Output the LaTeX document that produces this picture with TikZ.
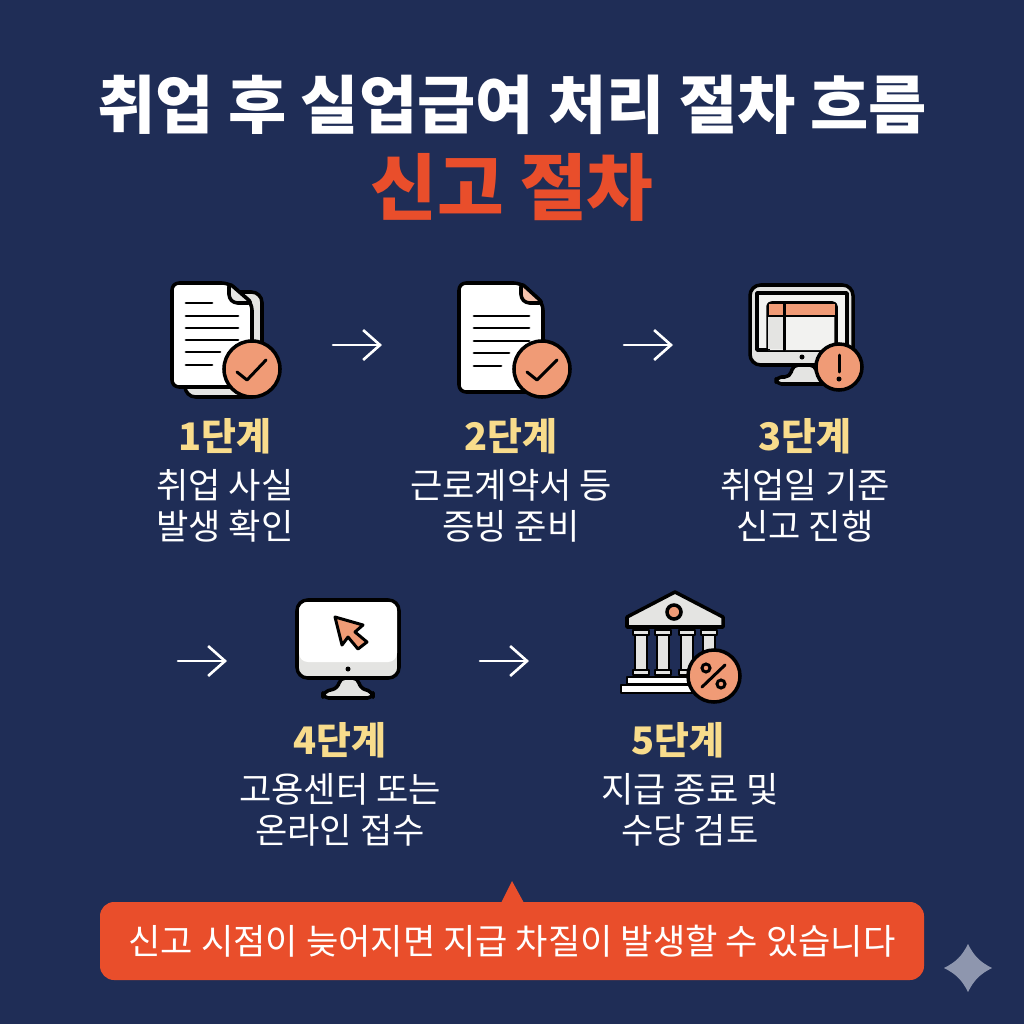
\documentclass[tikz,border=0pt]{standalone}
\usepackage{fontspec}
\newfontfamily\cjk{Noto Sans CJK KR}
\newfontfamily\cjkblack{Noto Sans CJK KR Black}
\usetikzlibrary{arrows.meta}
\definecolor{navy}{HTML}{1F2D56}
\definecolor{redorange}{HTML}{E94E2B}
\definecolor{peach}{HTML}{F09B76}
\definecolor{gold}{HTML}{F8DC8C}
\definecolor{sheet}{HTML}{E4E4E2}
\definecolor{sparkle}{HTML}{8E96AE}

\begin{document}
\begin{tikzpicture}
[x=0.01cm,y=-0.01cm,%%%%%%%%%%%%%%%%%%%%%%%%%%%%%%
title/.style={font=\cjkblack\fontsize{18}{20}\selectfont,text=white},
steplabel/.style={font=\cjkblack\fontsize{10.8}{12}\selectfont,text=gold},
stepdesc/.style={font=\cjk\fontsize{10}{11.7}\selectfont,text=white,align=center},
flow/.style={draw=white,line width=0.75pt,line cap=round,-{Straight Barb[length=4.8pt,width=8.5pt,line width=0.75pt]}},
icon/.style={draw=black,line width=1pt,line join=round,fill=white},
grey/.style={icon,fill=sheet},
rule/.style={draw=black,line width=0.85pt,line cap=round},
badge/.style={circle,draw=black,line width=1pt,fill=peach,inner sep=0pt},
]%%%%%%%%%%%%%%%%%%%%%%%%%%%%%%

\fill[navy] (0,0) rectangle (1024,1024);
\useasboundingbox (0,0) rectangle (1024,1024);

% titles
\node[title] (title) at (512,105){취업 후 실업급여 처리 절차 흐름};
\node[title,text=redorange,font=\cjkblack\fontsize{20.6}{22}\selectfont] (subtitle) at (512,187){신고 절차};

% step texts
\foreach \n/\lx/\x/\y/\d in {1/225/225/436/취업 사실\\발생 확인,
2/511/511/436/근로계약서 등\\증빙 준비,
3/805/805/436/취업일 기준\\신고 진행,
4/340/340/740/고용센터 또는\\온라인 접수,
5/678/690/740/지급 종료 및\\수당 검토}{
\node[steplabel] (step\n) at (\lx,\y){{\n}단계};
\node[stepdesc] (desc\n) at (\x,\y+70){\d};
}

% arrows
\foreach \n/\x/\y in {1/333/345,2/624/345,3/178/661,4/480/661}{
\coordinate (from\n) at (\x,\y);
\coordinate (to\n) at (\x+49,\y);
\draw[flow] (from\n) -- (to\n);
}

% icon 1
\draw[grey,rounded corners=3pt] (185,292) rectangle (262,397);
\draw[icon,rounded corners=2pt] (172,283) -- (229,283) -- (252,303) -- (252,387) -- (172,387) -- cycle;
\draw[icon,fill=sheet,rounded corners=1pt] (229,283) -- (252,303) -- (234,303) -- (229,298) -- cycle;
\foreach \y/\e in {303/212,316/238,328/238,340/238,352/220,365/212}
\draw[rule] (186,\y) -- (\e,\y);
\node[badge,minimum size=0.56cm] (badge1) at (252,369){};
\draw[rule,line join=round] (237,372) -- (247,380) -- (266,360);

% icon 2
\draw[icon,rounded corners=2pt] (459,283) -- (521,283) -- (543,303) -- (543,392) -- (459,392) -- cycle;
\draw[icon,fill=peach!60!white,rounded corners=1pt] (521,283) -- (543,303) -- (526,303) -- (521,298) -- cycle;
\foreach \y/\e in {316/529,328/529,341/529,353/509,366/501}
\draw[rule] (474,\y) -- (\e,\y);
\node[badge,minimum size=0.56cm] (badge2) at (542,369){};
\draw[rule,line join=round] (527,372) -- (537,380) -- (557,360);

% icon 3
\draw[grey,rounded corners=1.5pt] (776,384) -- (776,377) -- (790,377) -- (793,365) -- (815,365) -- (818,377) -- (830,377) -- (830,384) -- cycle;
\draw[grey,rounded corners=3pt] (750,285) rectangle (853,365);
\draw[icon,fill=sheet!50!white] (757,293) rectangle (847,350);
\draw[icon,fill=sheet!50!white,rounded corners=1pt] (768,350) -- (768,303) -- (836,303) -- (836,350);
\fill[sheet] (768,316) rectangle (784,349);
\fill[peach] (769,304) rectangle (835,316);
\draw[rule] (768,316) -- (836,316) (784,304) -- (784,350);
\node[circle,fill=black,inner sep=0pt,minimum size=0.05cm] (dot3) at (802,357){};
\node[badge,minimum size=0.46cm] (badge3) at (839,367){};
\draw[rule] (839,355) -- (839,372);
\node[circle,fill=black,inner sep=0pt,minimum size=0.05cm] (mark3) at (839,379){};

% icon 4
\draw[grey,rounded corners=1.5pt] (323,698) -- (323,692) -- (338,688) -- (340,678) -- (358,678) -- (360,688) -- (373,692) -- (373,698) -- cycle;
\draw[grey,rounded corners=3pt] (297,600) rectangle (399,678);
\fill[white,rounded corners=2.5pt] (299,602) rectangle (397,662);
\node[circle,fill=black,inner sep=0pt,minimum size=0.05cm] (dot4) at (348,669){};
\draw[icon,fill=peach,line width=0.85pt] (335,617) -- (363,625) -- (355,632) -- (367,642) -- (358,649) -- (348,637) -- (342,645) -- cycle;

% icon 5
\draw[grey] (675,592) -- (723,617) -- (723,627) -- (627,627) -- (627,617) -- cycle;
\node[badge,minimum size=0.14cm] (seal) at (674,612){};
\foreach \x in {641,663,687,709}{
\draw[icon,fill=sheet,line width=0.8pt] (\x-6,635) rectangle (\x+6,670);
\draw[grey,line width=0.8pt] (\x-8,630) rectangle (\x+8,635);
\draw[grey,line width=0.8pt] (\x-8,670) rectangle (\x+8,675);
}
\draw[icon,line width=0.8pt] (627,677) rectangle (723,684);
\draw[icon,line width=0.8pt] (621,685) rectangle (725,693);
\node[badge,minimum size=0.52cm] (badge5) at (714,676){};
\draw[rule] (702,687) -- (725,665);
\node[circle,draw=black,line width=0.85pt,inner sep=0pt,minimum size=0.08cm] (pctA) at (706,668){};
\node[circle,draw=black,line width=0.85pt,inner sep=0pt,minimum size=0.08cm] (pctB) at (721,684){};

% callout
\fill[redorange] (501,903) -- (512,881) -- (524,903) -- cycle;
\fill[redorange,rounded corners=4pt] (100,902) rectangle (924,980);
\node[font=\cjk\fontsize{10}{12}\selectfont,text=white] (note) at (512,941){신고 시점이 늦어지면 지급 차질이 발생할 수 있습니다};

% sparkle
\fill[sparkle] (968,944) .. controls (974,956) and (980,962) .. (992,968) .. controls (980,974) and (974,980) .. (968,992) .. controls (962,980) and (956,974) .. (944,968) .. controls (956,962) and (962,956) .. (968,944) -- cycle;
\end{tikzpicture}
\end{document}
